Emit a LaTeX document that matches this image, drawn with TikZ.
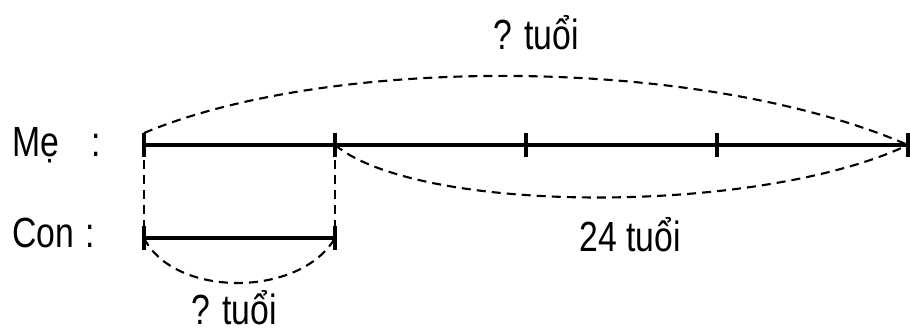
\documentclass[tikz,border=0pt]{standalone}
\usepackage{fontspec}
\setmainfont[FakeStretch=0.8]{Liberation Sans}
\usetikzlibrary{calc}

\begin{document}
\begin{tikzpicture}[
    x=0.025cm, y=-0.025cm,
    every node/.style={inner sep=0pt,font=\fontsize{30}{34}\selectfont},
    seg/.style={line width=2.2pt},
    guide/.style={line width=1.5pt,dash pattern=on 6.4pt off 4.3pt}
  ]
    \useasboundingbox (0,0) rectangle (910,333);
    % diem chia doan thang
    \coordinate (m0) at (144,145);
    \foreach \i in {1,...,4} \coordinate (m\i) at (144+191*\i,145);
    \coordinate (c0) at (144,238);
    \coordinate (c1) at (335,238);
    \node[anchor=base west] (me)  at (12,157) {Mẹ\hspace{23pt}:};
    \node[anchor=base west] (con) at (12,248) {Con\hspace{8pt}:};
    \draw[seg] (m0) -- (m4);
    \draw[seg] (c0) -- (c1);
    \foreach \p in {m0,m1,m2,m3,m4,c0,c1} \draw[seg] (\p) ++(0,-12) -- ++(0,24);
    \draw[guide] (m0) -- (c0);
    \draw[guide] (m1) -- (c1);
    % ngoac cong
    \draw[guide] (m0) ++(0,-12) .. controls +(186,-78) and +(-208,-90) .. (m4);
    \draw[guide] (m1) .. controls +(85,70) and +(-148,70) .. (m4);
    \draw[guide] (c0) .. controls +(30,60) and +(-35,60) .. (c1);
    \node[anchor=base] (whole) at (536,50)  {? tuổi};
    \node[anchor=base] (diff)  at (630,252) {24 tuổi};
    \node[anchor=base] (part)  at (234,325) {? tuổi};
\end{tikzpicture}
\end{document}
